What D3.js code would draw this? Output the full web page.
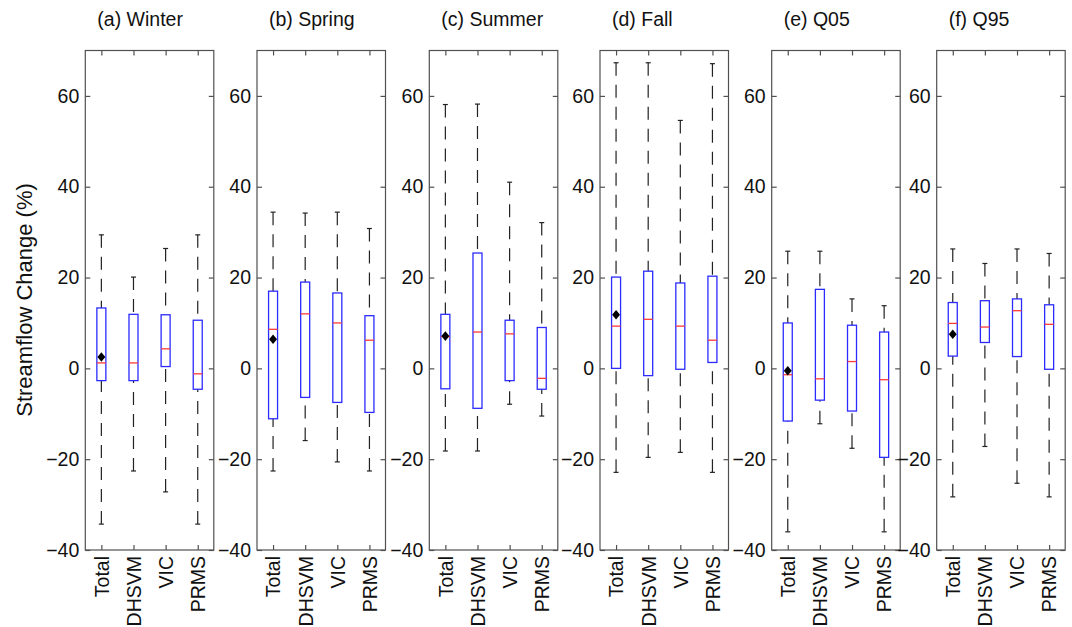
<!DOCTYPE html>
<html>
<head>
<meta charset="utf-8">
<style>
  body { margin: 0; background: #fff; font-family: Arial, "Liberation Sans", sans-serif; }
  .frame { fill: none; stroke: #505050; stroke-width: 1.2; }
  .tick line { stroke: #505050; stroke-width: 1.2; }
  .tick text { fill: #111; font-size: 19.5px; }
  .title { fill: #111; font-size: 19.5px; }
</style>
<script src="https://d3js.org/d3.v7.min.js"></script>
</head>
<body>
<div id="chart"></div>
<script>
// panel titles and model names
var titles = ["(a) Winter", "(b) Spring", "(c) Summer", "(d) Fall", "(e) Q05", "(f) Q95"];
var models = ["Total", "DHSVM", "VIC", "PRMS"];
var yTicks = [-40, -20, 0, 20, 40, 60];

// box plot stats per panel, one entry per model
var whiskerHigh = [
  [29.4, 20.1, 26.4, 29.4],
  [34.4, 34.2, 34.4, 30.8],
  [58.1, 58.2, 41.0, 32.1],
  [67.3, 67.3, 54.6, 67.1],
  [25.8, 25.8, 15.3, 13.8],
  [26.3, 23.1, 26.3, 25.3]
];
var q3 = [
  [13.3, 11.9, 11.8, 10.6],
  [17.0, 19.0, 16.6, 11.6],
  [11.9, 25.4, 10.6, 9.0],
  [20.1, 21.4, 18.8, 20.3],
  [10.0, 17.4, 9.5, 8.0],
  [14.5, 14.9, 15.3, 14.0]
];
var medians = [
  [1.2, 1.2, 4.3, -1.2],
  [8.6, 12.0, 10.0, 6.2],
  [7.0, 8.0, 7.6, -2.2],
  [9.3, 10.8, 9.3, 6.2],
  [-1.4, -2.3, 1.5, -2.5],
  [9.9, 9.1, 12.7, 9.7]
];
var q1 = [
  [-2.7, -2.7, 0.4, -4.6],
  [-11.1, -6.4, -7.5, -9.7],
  [-4.5, -8.8, -2.7, -4.6],
  [0.0, -1.6, -0.2, 1.3],
  [-11.6, -7.0, -9.4, -19.6],
  [2.7, 5.7, 2.6, -0.2]
];
var whiskerLow = [
  [-34.3, -22.6, -27.2, -34.3],
  [-22.6, -15.9, -20.6, -22.6],
  [-18.2, -18.2, -7.9, -10.5],
  [-22.9, -19.6, -18.5, -22.9],
  [-36.0, -12.2, -17.6, -36.0],
  [-28.3, -17.2, -25.3, -28.3]
];
// mean of the Total box (black diamond)
var totalMean = [2.5, 6.4, 7.1, 11.8, -0.5, 7.5];

var canvasWidth = 1072, canvasHeight = 627;
var panelLeft = [85.3, 257, 429.3, 600, 771.7, 936.7];
var panelW = 128.5, plotTop = 50.5, plotBottom = 550;
var boxHalf = 4.5, capHalf = 2.5;

var svg = d3.select("#chart").append("svg")
    .attr("width", canvasWidth)
    .attr("height", canvasHeight);

var yScale = d3.scaleLinear().domain([-40, 70]).range([plotBottom, plotTop]);
var xScale = d3.scalePoint().domain(models).range([0, panelW]).padding(0.5);

svg.append("text")
    .attr("transform", "translate(32," + 300 + ") rotate(-90)")
    .attr("text-anchor", "middle")
    .attr("font-size", "22px")
    .attr("fill", "#111")
    .text("Streamflow Change (%)");

titles.forEach(function(t, p) {
    var g = svg.append("g")
        .attr("transform", "translate(" + panelLeft[p] + ",0)");

    g.append("text")
        .attr("class", "title")
        .attr("x", 12)
        .attr("y", 26)
        .text(t);

    // axes, ticks pointing inward
    g.append("g")
        .call(d3.axisLeft(yScale).tickValues(yTicks).tickSizeInner(-5).tickSizeOuter(0).tickPadding(6))
        .call(function(a) { a.select(".domain").remove(); });
    g.append("g")
        .attr("transform", "translate(" + panelW + ",0)")
        .call(d3.axisRight(yScale).tickValues(yTicks).tickSizeInner(-5).tickSizeOuter(0).tickFormat(""))
        .call(function(a) { a.select(".domain").remove(); });
    g.append("g")
        .attr("transform", "translate(0," + plotTop + ")")
        .call(d3.axisTop(xScale).tickSizeInner(-5).tickSizeOuter(0).tickFormat(""))
        .call(function(a) { a.select(".domain").remove(); });
    var xb = g.append("g")
        .attr("transform", "translate(0," + plotBottom + ")")
        .call(d3.axisBottom(xScale).tickSizeInner(-5).tickSizeOuter(0));
    xb.select(".domain").remove();
    xb.selectAll("text")
        .attr("transform", "rotate(-90)")
        .attr("text-anchor", "end")
        .attr("x", -6)
        .attr("y", 0)
        .attr("dy", "0.35em");

    g.append("rect")
        .attr("class", "frame")
        .attr("x", 0).attr("y", plotTop)
        .attr("width", panelW).attr("height", plotBottom - plotTop);

    models.forEach(function(m, i) {
        var cx = xScale(m);
        // dashed whiskers from caps to box
        g.append("line")
            .attr("x1", cx).attr("x2", cx)
            .attr("y1", yScale(whiskerHigh[p][i])).attr("y2", yScale(q3[p][i]))
            .attr("stroke", "#222").attr("stroke-width", 1.2)
            .attr("stroke-dasharray", "13,9");
        g.append("line")
            .attr("x1", cx).attr("x2", cx)
            .attr("y1", yScale(whiskerLow[p][i])).attr("y2", yScale(q1[p][i]))
            .attr("stroke", "#222").attr("stroke-width", 1.2)
            .attr("stroke-dasharray", "13,9");
        [whiskerHigh[p][i], whiskerLow[p][i]].forEach(function(v) {
            g.append("line")
                .attr("x1", cx - capHalf).attr("x2", cx + capHalf)
                .attr("y1", yScale(v)).attr("y2", yScale(v))
                .attr("stroke", "#222").attr("stroke-width", 1.2);
        });
        g.append("rect")
            .attr("x", cx - boxHalf)
            .attr("y", yScale(q3[p][i]))
            .attr("width", boxHalf * 2)
            .attr("height", yScale(q1[p][i]) - yScale(q3[p][i]))
            .attr("fill", "none")
            .attr("stroke", "#2b2bff").attr("stroke-width", 1.3);
        g.append("line")
            .attr("x1", cx - boxHalf).attr("x2", cx + boxHalf)
            .attr("y1", yScale(medians[p][i])).attr("y2", yScale(medians[p][i]))
            .attr("stroke", "#ff3a3a").attr("stroke-width", 1.3);
    });

    g.append("path")
        .attr("d", d3.symbol().type(d3.symbolDiamond2).size(40)())
        .attr("transform", "translate(" + xScale("Total") + "," + yScale(totalMean[p]) + ") scale(1,1.2)")
        .attr("fill", "#000");
});
</script>
</body>
</html>
